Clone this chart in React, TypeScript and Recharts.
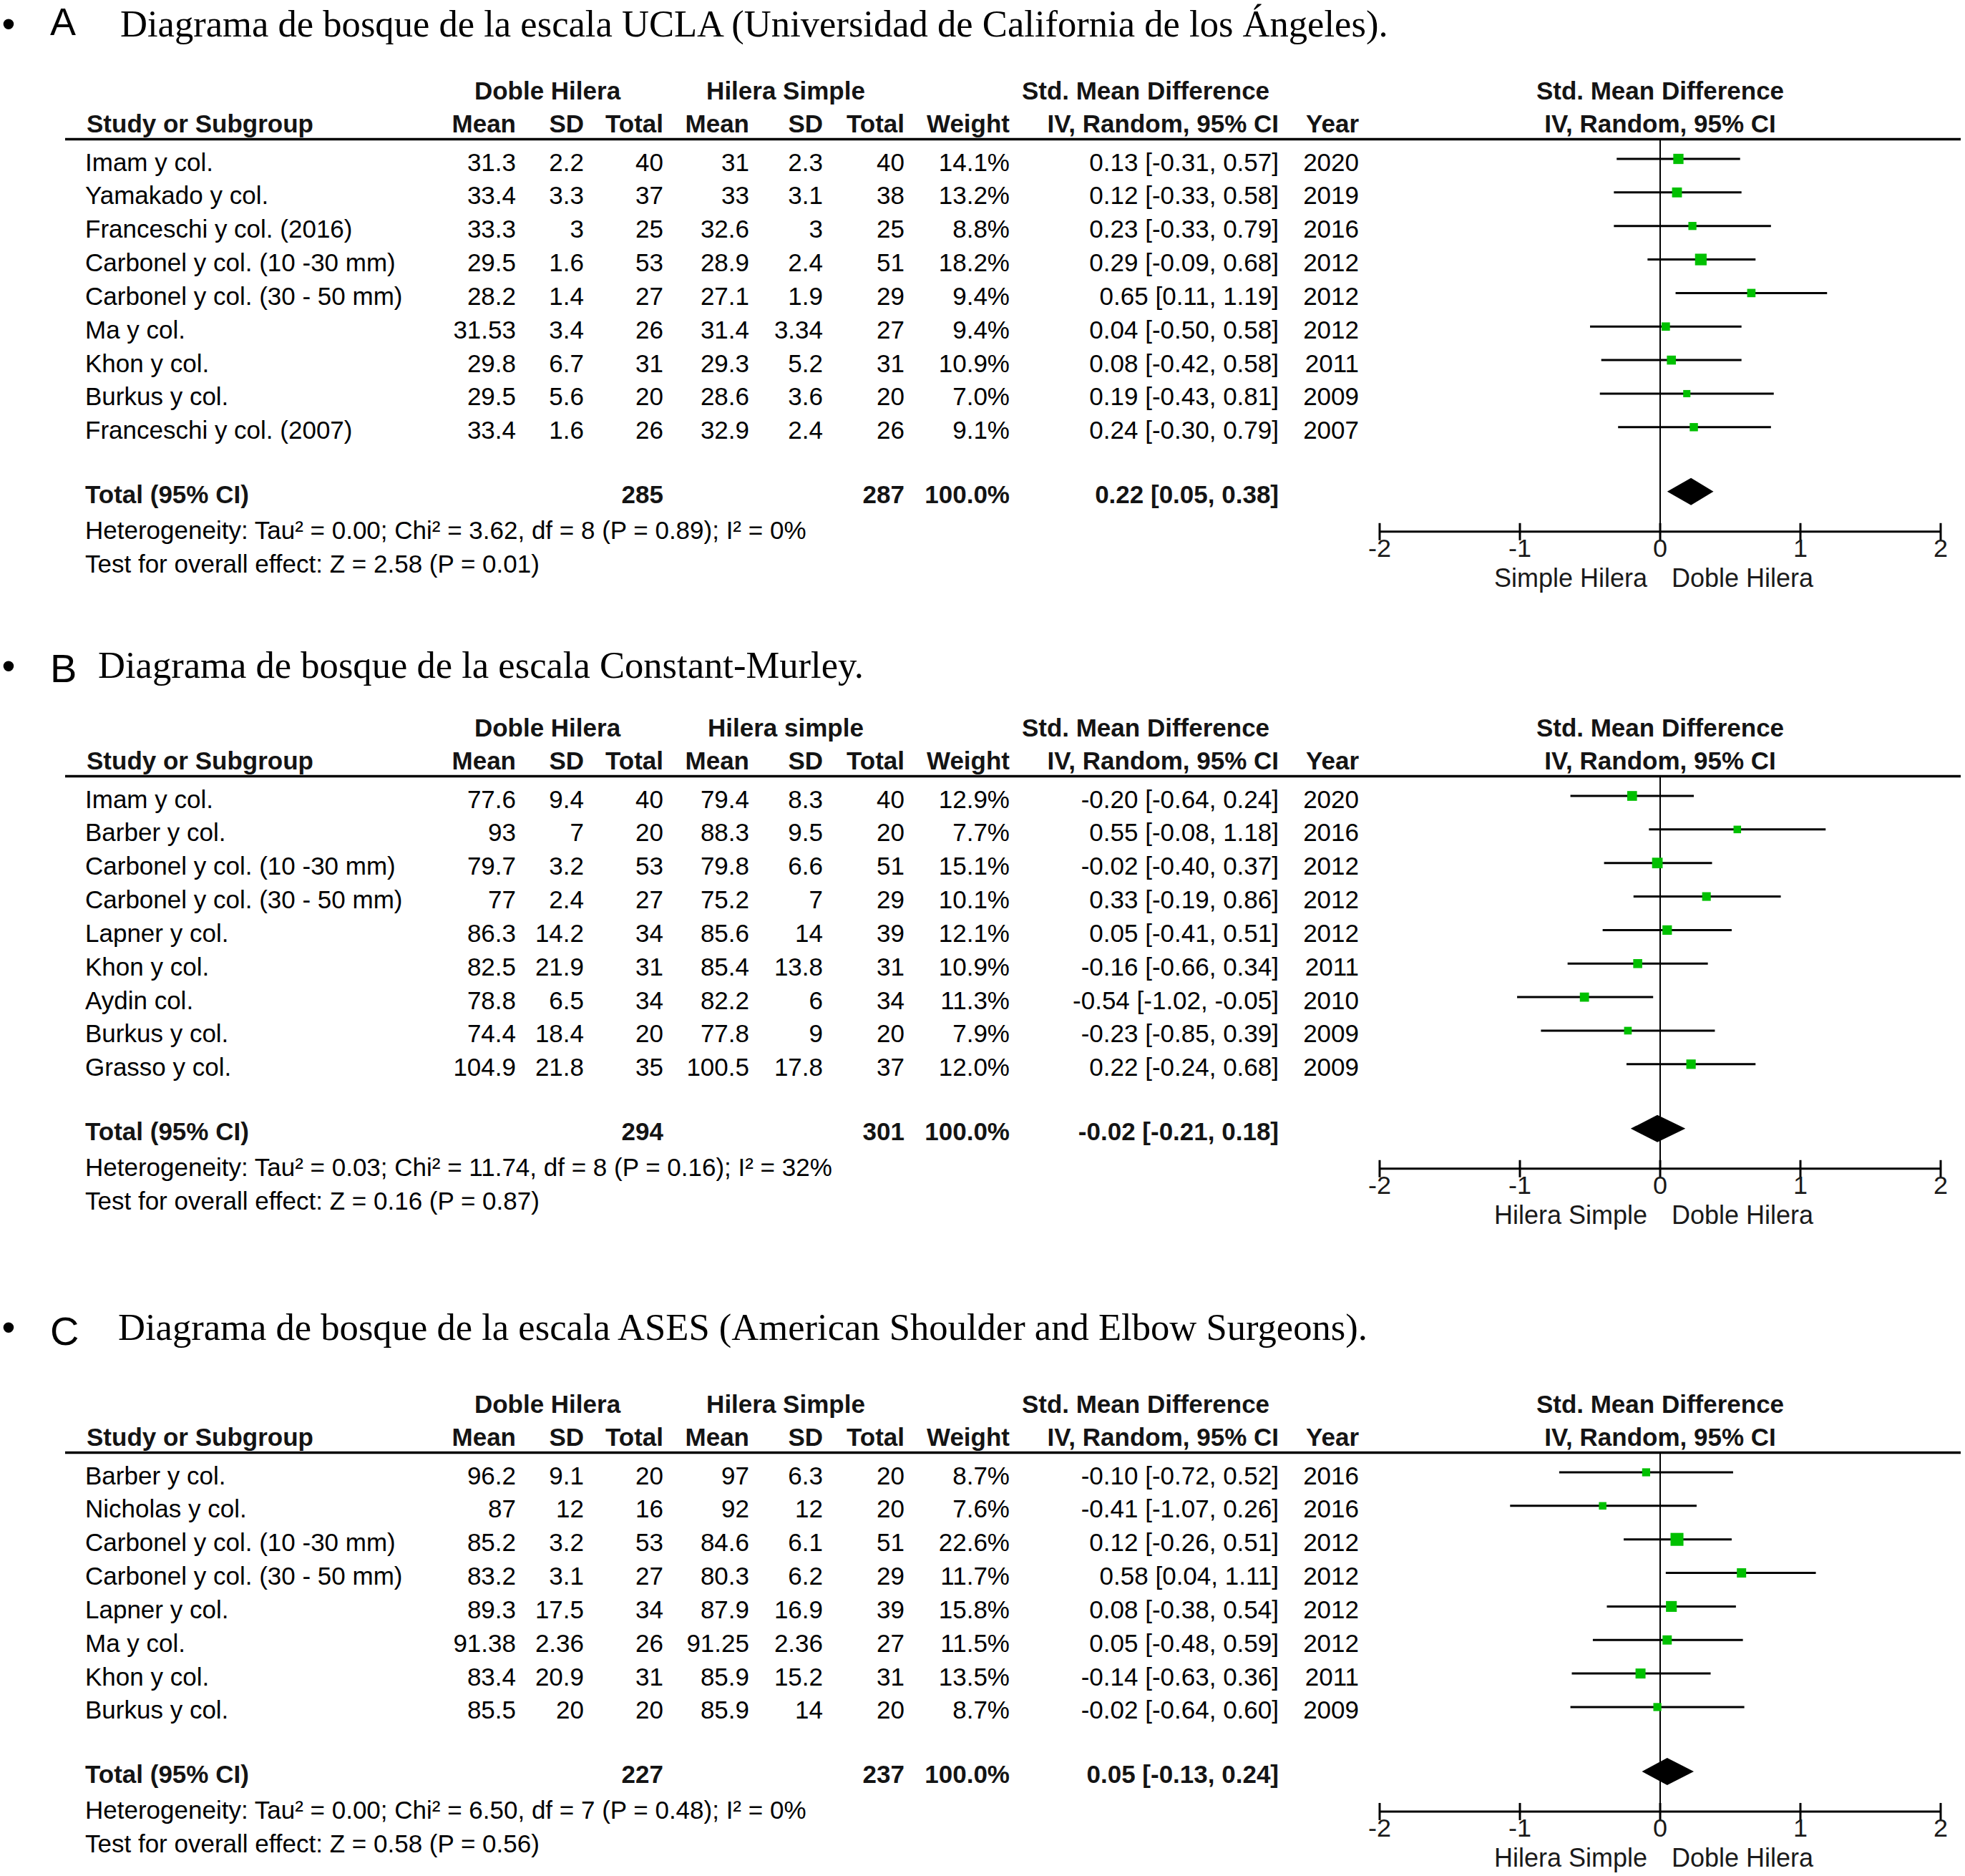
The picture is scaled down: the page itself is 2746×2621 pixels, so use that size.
import React from 'react';
import { ScatterChart, Scatter, XAxis, YAxis, ErrorBar, ReferenceLine } from 'recharts';

// ---------------- DATA ----------------
// Panel A – UCLA
const studiesA = ['Imam y col.', 'Yamakado y col.', 'Franceschi y col. (2016)', 'Carbonel y col. (10 -30 mm)', 'Carbonel y col. (30 - 50 mm)', 'Ma y col.', 'Khon y col.', 'Burkus y col.', 'Franceschi y col. (2007)'];
const mean1A = [31.3, 33.4, 33.3, 29.5, 28.2, 31.53, 29.8, 29.5, 33.4];
const sd1A = [2.2, 3.3, 3, 1.6, 1.4, 3.4, 6.7, 5.6, 1.6];
const n1A = [40, 37, 25, 53, 27, 26, 31, 20, 26];
const mean2A = [31, 33, 32.6, 28.9, 27.1, 31.4, 29.3, 28.6, 32.9];
const sd2A = [2.3, 3.1, 3, 2.4, 1.9, 3.34, 5.2, 3.6, 2.4];
const n2A = [40, 38, 25, 51, 29, 27, 31, 20, 26];
const weightA = [14.1, 13.2, 8.8, 18.2, 9.4, 9.4, 10.9, 7.0, 9.1];
const estA = [0.13, 0.12, 0.23, 0.29, 0.65, 0.04, 0.08, 0.19, 0.24];
const loA = [-0.31, -0.33, -0.33, -0.09, 0.11, -0.5, -0.42, -0.43, -0.3];
const hiA = [0.57, 0.58, 0.79, 0.68, 1.19, 0.58, 0.58, 0.81, 0.79];
const yearA = [2020, 2019, 2016, 2012, 2012, 2012, 2011, 2009, 2007];
const totalsA = [285, 287];
const pooledA = [0.22, 0.05, 0.38];

// Panel B – Constant-Murley
const studiesB = ['Imam y col.', 'Barber y col.', 'Carbonel y col. (10 -30 mm)', 'Carbonel y col. (30 - 50 mm)', 'Lapner y col.', 'Khon y col.', 'Aydin col.', 'Burkus y col.', 'Grasso y col.'];
const mean1B = [77.6, 93, 79.7, 77, 86.3, 82.5, 78.8, 74.4, 104.9];
const sd1B = [9.4, 7, 3.2, 2.4, 14.2, 21.9, 6.5, 18.4, 21.8];
const n1B = [40, 20, 53, 27, 34, 31, 34, 20, 35];
const mean2B = [79.4, 88.3, 79.8, 75.2, 85.6, 85.4, 82.2, 77.8, 100.5];
const sd2B = [8.3, 9.5, 6.6, 7, 14, 13.8, 6, 9, 17.8];
const n2B = [40, 20, 51, 29, 39, 31, 34, 20, 37];
const weightB = [12.9, 7.7, 15.1, 10.1, 12.1, 10.9, 11.3, 7.9, 12.0];
const estB = [-0.2, 0.55, -0.02, 0.33, 0.05, -0.16, -0.54, -0.23, 0.22];
const loB = [-0.64, -0.08, -0.4, -0.19, -0.41, -0.66, -1.02, -0.85, -0.24];
const hiB = [0.24, 1.18, 0.37, 0.86, 0.51, 0.34, -0.05, 0.39, 0.68];
const yearB = [2020, 2016, 2012, 2012, 2012, 2011, 2010, 2009, 2009];
const totalsB = [294, 301];
const pooledB = [-0.02, -0.21, 0.18];

// Panel C – ASES
const studiesC = ['Barber y col.', 'Nicholas y col.', 'Carbonel y col. (10 -30 mm)', 'Carbonel y col. (30 - 50 mm)', 'Lapner y col.', 'Ma y col.', 'Khon y col.', 'Burkus y col.'];
const mean1C = [96.2, 87, 85.2, 83.2, 89.3, 91.38, 83.4, 85.5];
const sd1C = [9.1, 12, 3.2, 3.1, 17.5, 2.36, 20.9, 20];
const n1C = [20, 16, 53, 27, 34, 26, 31, 20];
const mean2C = [97, 92, 84.6, 80.3, 87.9, 91.25, 85.9, 85.9];
const sd2C = [6.3, 12, 6.1, 6.2, 16.9, 2.36, 15.2, 14];
const n2C = [20, 20, 51, 29, 39, 27, 31, 20];
const weightC = [8.7, 7.6, 22.6, 11.7, 15.8, 11.5, 13.5, 8.7];
const estC = [-0.1, -0.41, 0.12, 0.58, 0.08, 0.05, -0.14, -0.02];
const loC = [-0.72, -1.07, -0.26, 0.04, -0.38, -0.48, -0.63, -0.64];
const hiC = [0.52, 0.26, 0.51, 1.11, 0.54, 0.59, 0.36, 0.6];
const yearC = [2016, 2016, 2012, 2012, 2012, 2012, 2011, 2009];
const totalsC = [227, 237];
const pooledC = [0.05, -0.13, 0.24];

const AXIS_TICKS = [-2, -1, 0, 1, 2];

// ---------------- LAYOUT ----------------
const W = 2746;
const H = 2621;
const SANS = "'Liberation Sans', Arial, sans-serif";
const SERIF = "'Liberation Serif', 'Times New Roman', serif";
const ROW_H = 46.85;
const ROW0_BASE = 238.5;
const HEADER_LINE = 194.5;
const TOTAL_GAP = 90;
const CI_SHIFT = 17;
const AXIS_GAP = 56;
const TICK_LABEL_DY = 35;
const AXIS_LABEL_DY = 78;
const X_NEG2 = 1928;
const X_POS2 = 2712;
const PAD = 30;
const XAXIS_H = 100;
const DIAMOND_HALF = 19;
const COL = { mean1: 721, sd1: 816, n1: 927, mean2: 1047, sd2: 1150, n2: 1264, weight: 1411, ci: 1787, year: 1899 };
const GREEN = '#00c000';

const panels = [
  {
    offset: 0, letter: 'A', letterY: 49, letterSize: 54, bulletY: 35, titleX: 168, titleY: 51,
    title: 'Diagrama de bosque de la escala UCLA (Universidad de California de los Ángeles).',
    group2: 'Hilera Simple', left: 'Simple Hilera', right: 'Doble Hilera',
    studies: studiesA, mean1: mean1A, sd1: sd1A, n1: n1A, mean2: mean2A, sd2: sd2A, n2: n2A,
    weight: weightA, est: estA, lo: loA, hi: hiA, year: yearA, totals: totalsA, pooled: pooledA,
    het: 'Heterogeneity: Tau² = 0.00; Chi² = 3.62, df = 8 (P = 0.89); I² = 0%',
    test: 'Test for overall effect: Z = 2.58 (P = 0.01)',
  },
  {
    offset: 890, letter: 'B', letterY: 953, letterSize: 56, bulletY: 932, titleX: 137, titleY: 947,
    title: 'Diagrama de bosque de la escala Constant-Murley.',
    group2: 'Hilera simple', left: 'Hilera Simple', right: 'Doble Hilera',
    studies: studiesB, mean1: mean1B, sd1: sd1B, n1: n1B, mean2: mean2B, sd2: sd2B, n2: n2B,
    weight: weightB, est: estB, lo: loB, hi: hiB, year: yearB, totals: totalsB, pooled: pooledB,
    het: 'Heterogeneity: Tau² = 0.03; Chi² = 11.74, df = 8 (P = 0.16); I² = 32%',
    test: 'Test for overall effect: Z = 0.16 (P = 0.87)',
  },
  {
    offset: 1835, letter: 'C', letterY: 1879, letterSize: 56, bulletY: 1856, titleX: 165, titleY: 1872,
    title: 'Diagrama de bosque de la escala ASES (American Shoulder and Elbow Surgeons).',
    group2: 'Hilera Simple', left: 'Hilera Simple', right: 'Doble Hilera',
    studies: studiesC, mean1: mean1C, sd1: sd1C, n1: n1C, mean2: mean2C, sd2: sd2C, n2: n2C,
    weight: weightC, est: estC, lo: loC, hi: hiC, year: yearC, totals: totalsC, pooled: pooledC,
    het: 'Heterogeneity: Tau² = 0.00; Chi² = 6.50, df = 7 (P = 0.48); I² = 0%',
    test: 'Test for overall effect: Z = 0.58 (P = 0.56)',
  },
];

const ci = (e: number, l: number, h: number) => `${e.toFixed(2)} [${l.toFixed(2)}, ${h.toFixed(2)}]`;

function geom(p: any) {
  const n = p.studies.length;
  const rowB = (i: number) => p.offset + ROW0_BASE + ROW_H * i;
  const totalB = rowB(n - 1) + TOTAL_GAP;
  const headerY = p.offset + HEADER_LINE;
  const diamondY = totalB - CI_SHIFT;
  const axisY = diamondY + AXIS_GAP;
  return { n, rowB, totalB, headerY, diamondY, axisY };
}

function PanelText({ p }: { p: any }) {
  const g = geom(p);
  const O = p.offset;
  const hb = { fontFamily: SANS, fontSize: 35, fontWeight: 700, fill: '#141414' } as any;
  const t = { fontFamily: SANS, fontSize: 35, fill: '#000' } as any;
  const gh = O + 138.5;
  const ch = O + 184.5;
  return (
    <g>
      <text x={12} y={p.bulletY + 17} fontFamily={SANS} fontSize={54} textAnchor="middle">•</text>
      <text x={70} y={p.letterY} fontFamily={SANS} fontSize={p.letterSize}>{p.letter}</text>
      <text x={p.titleX} y={p.titleY} fontFamily={SERIF} fontSize={52.6}>{p.title}</text>

      <text {...hb} x={765} y={gh} textAnchor="middle">Doble Hilera</text>
      <text {...hb} x={1098} y={gh} textAnchor="middle">{p.group2}</text>
      <text {...hb} x={1601} y={gh} textAnchor="middle">Std. Mean Difference</text>
      <text {...hb} x={2320} y={gh} textAnchor="middle">Std. Mean Difference</text>

      <text {...hb} x={121} y={ch}>Study or Subgroup</text>
      <text {...hb} x={COL.mean1} y={ch} textAnchor="end">Mean</text>
      <text {...hb} x={COL.sd1} y={ch} textAnchor="end">SD</text>
      <text {...hb} x={COL.n1} y={ch} textAnchor="end">Total</text>
      <text {...hb} x={COL.mean2} y={ch} textAnchor="end">Mean</text>
      <text {...hb} x={COL.sd2} y={ch} textAnchor="end">SD</text>
      <text {...hb} x={COL.n2} y={ch} textAnchor="end">Total</text>
      <text {...hb} x={COL.weight} y={ch} textAnchor="end">Weight</text>
      <text {...hb} x={COL.ci} y={ch} textAnchor="end">IV, Random, 95% CI</text>
      <text {...hb} x={COL.year} y={ch} textAnchor="end">Year</text>
      <text {...hb} x={2320} y={ch} textAnchor="middle">IV, Random, 95% CI</text>

      <line x1={91} x2={2740} y1={g.headerY} y2={g.headerY} stroke="#000" strokeWidth={3.5} />

      {p.studies.map((s: string, i: number) => {
        const y = g.rowB(i);
        return (
          <g key={i}>
            <text {...t} x={119} y={y}>{s}</text>
            <text {...t} x={COL.mean1} y={y} textAnchor="end">{String(p.mean1[i])}</text>
            <text {...t} x={COL.sd1} y={y} textAnchor="end">{String(p.sd1[i])}</text>
            <text {...t} x={COL.n1} y={y} textAnchor="end">{String(p.n1[i])}</text>
            <text {...t} x={COL.mean2} y={y} textAnchor="end">{String(p.mean2[i])}</text>
            <text {...t} x={COL.sd2} y={y} textAnchor="end">{String(p.sd2[i])}</text>
            <text {...t} x={COL.n2} y={y} textAnchor="end">{String(p.n2[i])}</text>
            <text {...t} x={COL.weight} y={y} textAnchor="end">{p.weight[i].toFixed(1) + '%'}</text>
            <text {...t} x={COL.ci} y={y} textAnchor="end">{ci(p.est[i], p.lo[i], p.hi[i])}</text>
            <text {...t} x={COL.year} y={y} textAnchor="end">{String(p.year[i])}</text>
          </g>
        );
      })}

      <text {...hb} x={119} y={g.totalB}>Total (95% CI)</text>
      <text {...hb} x={COL.n1} y={g.totalB} textAnchor="end">{String(p.totals[0])}</text>
      <text {...hb} x={COL.n2} y={g.totalB} textAnchor="end">{String(p.totals[1])}</text>
      <text {...hb} x={COL.weight} y={g.totalB} textAnchor="end">100.0%</text>
      <text {...hb} x={COL.ci} y={g.totalB} textAnchor="end">{ci(p.pooled[0], p.pooled[1], p.pooled[2])}</text>
      <text {...t} x={119} y={g.totalB + 50}>{p.het}</text>
      <text {...t} x={119} y={g.totalB + 97}>{p.test}</text>

      <text fontFamily={SANS} fontSize={36} fill="#1a1a1a" x={2302} y={g.axisY + AXIS_LABEL_DY} textAnchor="end">{p.left}</text>
      <text fontFamily={SANS} fontSize={36} fill="#1a1a1a" x={2336} y={g.axisY + AXIS_LABEL_DY}>{p.right}</text>
    </g>
  );
}

const renderTick = (props: any) => {
  const { x, y, payload } = props;
  return (
    <g>
      <line x1={x} x2={x} y1={y - 12} y2={y + 12} stroke="#000" strokeWidth={3} />
      <text x={x} y={y + TICK_LABEL_DY} textAnchor="middle" fontFamily={SANS} fontSize={36} fill="#1a1a1a">{String(payload.value)}</text>
    </g>
  );
};

const renderSquare = (props: any) => {
  const { cx, cy, payload } = props;
  if (cx == null || cy == null) return <g />;
  const s = 3.8 * Math.sqrt(payload.w);
  return <rect x={cx - s / 2} y={cy - s / 2} width={s} height={s} fill={GREEN} />;
};

const renderNothing = () => <g />;

const renderDiamond = (props: any) => {
  const pts = props.points;
  if (!pts || pts.length < 3) return <g />;
  const [l, m, r] = pts;
  const h = DIAMOND_HALF;
  return <path d={`M${l.x},${l.y}L${m.x},${m.y - h}L${r.x},${r.y}L${m.x},${m.y + h}Z`} fill="#000" stroke="none" />;
};

function Forest({ p }: { p: any }) {
  const g = geom(p);
  const row0 = p.offset + ROW0_BASE - CI_SHIFT;
  const yMin = (g.headerY - row0) / ROW_H;
  const yMax = (g.axisY - row0) / ROW_H;
  const totalIdx = (g.diamondY - row0) / ROW_H;
  const plotH = g.axisY - g.headerY;
  const data = p.est.map((e: number, i: number) => ({ x: e, y: i, err: [e - p.lo[i], p.hi[i] - e], w: p.weight[i] }));
  const pooled = [p.pooled[1], p.pooled[0], p.pooled[2]].map((x: number) => ({ x, y: totalIdx }));
  return (
    <div style={{ position: 'absolute', left: X_NEG2 - PAD, top: g.headerY }}>
      <ScatterChart width={X_POS2 - X_NEG2 + 2 * PAD} height={plotH + XAXIS_H} margin={{ top: 0, right: PAD, bottom: 0, left: PAD }}>
        <XAxis
          type="number"
          dataKey="x"
          domain={[-2, 2]}
          ticks={AXIS_TICKS}
          allowDataOverflow
          axisLine={{ stroke: '#000', strokeWidth: 3 }}
          tickLine={false}
          tickSize={0}
          tickMargin={0}
          tick={renderTick}
          height={XAXIS_H}
          interval={0}
        />
        <YAxis type="number" dataKey="y" domain={[yMin, yMax]} reversed hide allowDataOverflow width={0} />
        <ReferenceLine x={0} stroke="#000" strokeWidth={2} />
        <Scatter data={data} shape={renderSquare} isAnimationActive={false}>
          <ErrorBar dataKey="err" direction="x" width={0} stroke="#000" strokeWidth={3} isAnimationActive={false} />
        </Scatter>
        <Scatter data={pooled} shape={renderNothing} line={renderDiamond} lineType="joint" isAnimationActive={false} />
      </ScatterChart>
    </div>
  );
}

export default function App() {
  return (
    <div style={{ position: 'absolute', left: 0, top: 0, width: W, height: H, background: '#fff', overflow: 'hidden' }}>
      <svg width={W} height={H} style={{ position: 'absolute', left: 0, top: 0 }}>
        {panels.map((p, i) => (
          <PanelText key={i} p={p} />
        ))}
      </svg>
      {panels.map((p, i) => (
        <Forest key={i} p={p} />
      ))}
    </div>
  );
}
